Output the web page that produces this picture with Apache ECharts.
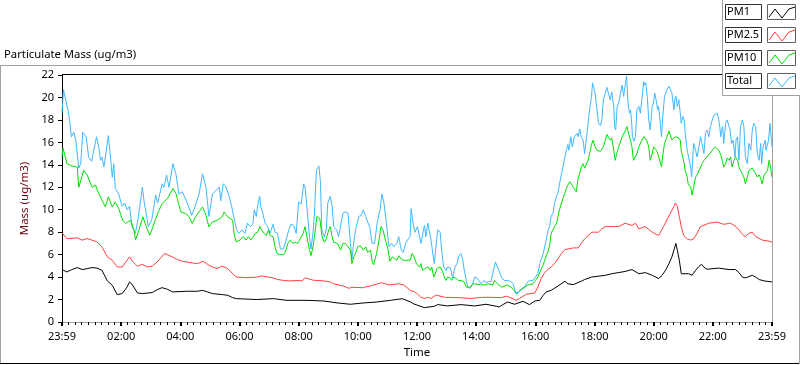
<!DOCTYPE html>
<html>
<head>
<meta charset="utf-8">
<script src="https://cdn.jsdelivr.net/npm/echarts@6/dist/echarts.min.js"></script>
<style>
  html, body { margin: 0; padding: 0; background: #ffffff; }
  #chart { width: 800px; height: 365px; }
</style>
</head>
<body>
<div id="chart"></div>
<script>
// ---- data (time in minutes from the first 23:59 sample) ----
const seriesNames = ['PM1', 'PM2.5', 'PM10', 'Total'];
const seriesColors = ['#000000', '#ff4040', '#00e000', '#40b8ff'];
const tickLabels = ['23:59','02:00','04:00','06:00','08:00','10:00','12:00','14:00','16:00','18:00','20:00','22:00','23:59'];

const pm1Times = [0,10,20,31,41,51,61,71,81,92,102,112,122,132,137,142,153,163,183,193,203,214,224,254,275,285,295,305,325,336,346,354,395,429,456,497,531,558,585,612,639,666,690,707,714,735,755,762,782,809,837,860,881,887,894,904,918,935,948,959,969,976,982,992,1006,1020,1026,1037,1053,1060,1074,1102,1115,1142,1156,1170,1183,1197,1210,1217,1224,1231,1237,1243,1245,1248,1252,1256,1271,1278,1285,1292,1297,1302,1308,1332,1353,1366,1373,1380,1386,1400,1407,1414,1424,1440];
const pm1Values = [4.67,4.46,4.67,4.85,4.67,4.75,4.85,4.8,4.6,3.66,3.27,2.44,2.53,3.12,3.57,3.36,2.59,2.53,2.62,2.88,3.06,2.91,2.68,2.74,2.74,2.82,2.68,2.53,2.44,2.38,2.17,2.08,2.0,2.08,1.93,1.93,1.87,1.7,1.58,1.7,1.78,1.93,2.08,1.78,1.6,1.28,1.4,1.55,1.43,1.55,1.43,1.58,1.4,1.34,1.55,1.78,1.58,1.84,1.55,1.87,1.93,2.38,2.68,2.82,3.2,3.63,3.4,3.33,3.63,3.78,4.0,4.16,4.3,4.5,4.67,4.3,4.4,4.16,3.87,4.16,4.6,5.2,5.8,6.7,7.0,6.4,5.5,4.3,4.3,4.16,4.6,4.96,5.14,4.87,4.7,4.8,4.67,4.67,4.4,4.0,3.93,4.16,4.0,3.78,3.66,3.57];

const pm25Times = [0,10,31,41,51,61,71,81,92,102,112,122,137,142,153,163,173,183,193,208,224,234,244,264,275,286,295,305,315,324,336,346,354,375,395,405,426,436,449,463,477,487,493,500,510,531,544,551,571,582,588,609,629,648,663,683,693,707,714,721,728,735,742,748,759,776,803,830,853,870,891,901,914,921,928,942,959,965,972,979,986,992,999,1006,1013,1020,1026,1037,1047,1053,1060,1067,1075,1088,1095,1102,1115,1129,1142,1156,1163,1170,1183,1197,1210,1220,1227,1234,1241,1244,1248,1252,1256,1261,1268,1275,1281,1288,1295,1312,1329,1342,1356,1367,1373,1380,1386,1393,1400,1407,1420,1434,1440];
const pm25Values = [7.94,7.43,7.49,7.29,7.43,7.29,7.14,6.69,5.8,5.5,4.9,4.9,5.8,5.45,4.97,5.14,4.9,4.97,5.35,6.1,5.8,5.56,5.41,5.26,5.2,5.41,5.14,4.9,4.76,4.97,4.76,4.31,4.0,3.95,4.0,4.1,3.95,3.8,3.7,3.66,3.7,3.66,3.95,3.84,3.72,3.66,3.57,3.4,3.2,3.0,3.1,3.05,3.25,3.5,3.3,3.4,3.3,2.8,2.7,2.5,2.2,2.1,2.2,2.1,2.4,2.2,2.17,2.1,2.2,2.2,2.17,2.3,2.1,1.93,2.1,2.47,2.59,3.1,3.9,4.4,4.7,4.9,5.2,5.65,6.1,6.45,6.5,6.6,6.6,7.0,7.4,7.7,8.0,8.0,8.3,8.5,8.5,8.5,8.8,8.6,8.8,8.3,8.5,8.0,7.7,8.5,9.1,9.7,10.3,10.6,10.3,9.4,8.5,7.7,7.4,7.3,7.4,7.9,8.5,8.8,8.9,8.7,8.8,8.5,8.2,7.8,7.6,7.9,8.0,7.6,7.3,7.2,7.1];

const pm10Times = [0,2,10,20,31,34,44,51,61,68,73,81,88,94,102,108,115,123,129,139,146,149,156,164,170,178,183,190,197,203,214,225,231,241,251,258,264,271,278,285,292,298,305,315,325,329,336,346,349,353,361,368,373,378,383,388,392,397,401,405,410,414,419,422,428,432,436,441,449,453,458,463,468,473,478,483,489,493,498,502,505,509,512,517,523,527,532,536,541,544,548,551,554,559,565,570,575,580,585,588,592,595,600,605,611,616,620,626,629,632,638,643,647,651,656,661,665,670,673,679,683,688,693,700,706,710,714,719,725,728,731,738,743,747,750,754,757,761,763,767,772,776,779,782,788,790,794,799,804,809,815,820,823,828,833,838,849,853,858,864,874,877,883,892,903,911,917,921,926,935,945,955,960,965,971,976,979,982,986,989,992,996,999,1003,1006,1009,1013,1016,1020,1023,1026,1030,1033,1037,1040,1043,1047,1050,1053,1057,1060,1064,1067,1070,1074,1077,1081,1085,1092,1098,1105,1112,1115,1119,1122,1125,1129,1136,1142,1146,1149,1153,1156,1159,1163,1166,1170,1176,1180,1186,1190,1193,1197,1200,1207,1210,1214,1216,1218,1222,1227,1231,1237,1244,1251,1254,1256,1259,1262,1264,1268,1270,1273,1275,1278,1281,1285,1288,1292,1295,1298,1302,1305,1308,1312,1319,1325,1329,1332,1336,1339,1342,1346,1349,1353,1356,1359,1363,1366,1370,1373,1376,1380,1383,1386,1390,1393,1400,1403,1407,1410,1414,1417,1420,1424,1427,1431,1434,1437,1440];
const pm10Values = [14.7,15.5,14.1,13.9,13.8,12.0,13.5,13.1,12.0,12.2,11.6,10.85,10.25,11.15,10.25,10.7,10.1,9.07,8.77,9.07,8.18,7.3,8.18,9.37,8.6,7.73,8.3,9.2,9.96,10.55,11.0,11.9,11.45,9.8,9.66,9.37,8.77,9.37,9.8,10.25,9.5,8.47,8.9,9.07,9.37,9.8,9.37,9.07,7.88,7.14,7.3,7.6,7.3,7.6,7.3,7.6,7.9,8.0,8.5,8.2,7.9,7.7,8.2,7.7,7.6,6.7,6.1,6.0,6.0,6.2,7.0,7.3,7.0,7.1,7.0,7.4,7.9,8.5,7.3,6.4,5.9,6.7,7.6,9.4,9.2,7.7,7.1,7.4,8.2,8.5,7.6,7.1,7.0,7.0,6.4,7.0,7.0,6.7,6.4,5.2,5.8,6.1,6.7,6.8,6.4,6.7,6.2,6.4,5.4,5.1,6.1,7.3,8.5,8.2,7.3,6.5,5.4,5.8,5.8,5.5,5.9,5.6,5.5,5.5,5.5,6.1,5.8,5.2,4.9,5.2,4.6,4.8,4.9,4.6,4.9,4.0,3.9,4.8,4.9,4.9,4.5,3.9,3.7,4.0,3.9,3.7,4.0,3.9,3.7,3.7,3.6,3.1,3.0,3.1,3.4,3.4,3.3,3.4,3.3,3.4,3.3,3.7,3.4,3.1,3.3,3.1,2.8,2.5,2.7,3.0,3.3,3.4,3.7,4.0,4.6,5.1,5.5,5.9,6.3,6.8,7.9,8.0,8.5,8.8,9.4,10.0,10.6,11.0,11.5,11.9,12.2,12.5,12.6,12.0,11.9,11.6,12.9,13.2,13.8,14.1,13.7,13.7,14.4,15.0,15.8,16.2,15.6,15.3,15.2,15.6,16.7,16.2,16.4,15.3,14.4,15.0,15.6,16.5,17.0,17.4,16.8,16.2,15.6,14.4,14.3,15.0,15.6,16.2,16.5,16.2,15.6,14.4,15.0,15.6,15.2,15.3,14.1,13.8,14.7,15.9,16.5,17.0,16.2,16.5,16.4,16.2,15.2,14.7,14.1,13.5,12.9,12.3,12.3,12.0,11.3,12.0,12.9,13.1,13.5,13.8,14.1,14.4,14.3,14.7,14.9,15.3,15.6,15.5,15.3,14.9,14.4,13.8,14.1,14.6,14.4,14.7,13.8,14.4,14.7,14.4,13.8,13.5,13.2,12.9,12.3,12.9,13.5,13.7,13.7,13.2,12.9,13.1,12.8,12.3,13.1,13.2,13.5,14.4,13.8,12.9];

const totalTimes = [0,3,12,15,19,24,28,34,38,42,49,54,60,70,75,78,81,85,94,97,102,105,108,115,122,127,132,137,142,149,155,163,167,175,182,190,194,203,207,212,217,225,231,237,244,254,263,270,278,285,292,298,305,312,319,322,327,332,339,344,354,359,365,371,376,382,387,390,394,397,401,403,407,412,417,422,428,432,437,443,449,455,460,464,470,475,480,485,490,493,497,502,505,509,512,516,521,524,527,532,536,539,544,548,551,557,561,566,570,575,580,585,588,593,597,602,607,611,616,620,624,629,634,639,645,649,653,658,663,668,673,679,683,688,692,697,702,706,708,712,716,721,728,735,738,742,748,755,762,767,770,774,779,782,788,792,797,801,805,809,813,816,820,823,828,833,837,842,847,850,856,860,865,870,874,879,883,887,892,898,904,910,915,919,923,928,933,938,945,950,955,960,965,969,972,976,979,982,986,989,992,996,999,1003,1006,1009,1013,1016,1020,1023,1026,1028,1032,1035,1039,1041,1045,1047,1050,1053,1057,1060,1064,1067,1070,1074,1076,1079,1081,1085,1088,1092,1095,1098,1102,1105,1108,1112,1115,1119,1121,1123,1126,1129,1132,1136,1139,1142,1145,1148,1151,1153,1155,1157,1160,1163,1166,1170,1173,1176,1180,1182,1184,1187,1190,1193,1197,1200,1202,1205,1208,1210,1214,1216,1218,1222,1227,1231,1234,1237,1241,1243,1245,1248,1251,1254,1256,1259,1262,1264,1268,1271,1275,1277,1279,1281,1285,1288,1292,1295,1298,1302,1305,1308,1312,1315,1319,1322,1325,1329,1332,1334,1336,1338,1340,1342,1346,1349,1353,1355,1358,1361,1365,1367,1370,1373,1376,1380,1383,1386,1390,1393,1397,1400,1403,1407,1410,1414,1417,1419,1422,1426,1428,1433,1436,1439,1440];
const totalValues = [18.6,20.7,18.9,18.1,16.5,16.9,16.2,13.7,14.1,16.9,16.5,14.7,14.3,16.5,15.5,14.4,14.7,13.8,16.6,15.3,12.9,14.1,11.9,11.4,10.3,10.6,10.0,10.3,8.5,7.9,9.4,12.0,10.6,8.5,9.1,11.3,10.6,12.3,12.0,13.1,12.0,14.1,13.2,11.4,11.6,10.6,9.5,10.3,11.4,13.2,12.0,9.4,11.4,11.7,12.0,10.8,12.3,12.1,11.2,10.3,8.2,7.9,8.2,7.9,8.8,8.5,8.7,10.0,9.4,10.4,11.2,10.3,9.7,8.8,8.5,7.9,8.7,8.0,7.9,6.5,6.5,7.4,8.2,8.7,8.6,7.9,10.7,10.5,12.3,12.0,10.1,7.6,6.5,7.9,9.7,13.5,13.9,12.6,8.2,7.6,8.2,10.6,11.2,10.3,8.5,8.2,7.6,8.8,9.7,9.8,9.7,7.0,5.6,7.6,8.5,9.4,9.5,10.0,9.4,8.9,8.5,7.0,7.0,8.8,10.0,11.4,10.6,8.8,6.7,7.0,6.7,7.0,7.6,6.4,6.2,7.0,7.4,7.6,10.1,8.8,8.0,8.5,7.0,8.6,7.6,8.8,7.4,5.2,8.2,8.0,6.4,4.9,4.6,4.9,4.8,3.9,4.9,5.2,5.9,6.1,5.5,4.6,3.7,3.1,3.0,3.4,4.0,3.9,3.6,3.4,3.7,3.5,3.6,3.6,3.7,5.35,5.2,4.5,3.9,3.7,3.7,3.6,3.4,2.8,2.5,2.8,3.0,3.1,3.6,3.7,3.7,4.0,4.3,5.2,5.2,6.1,6.7,7.3,8.2,8.5,9.4,9.7,10.6,11.2,11.5,12.3,13.2,13.8,14.7,15.3,15.8,15.3,16.5,15.6,16.5,16.5,16.8,16.5,17.2,16.5,16.2,15.0,16.5,17.7,18.9,20.1,21.3,20.8,20.4,18.9,17.7,17.5,18.0,19.8,20.4,20.9,20.4,19.8,20.5,19.2,17.4,17.1,19.2,19.5,19.5,21.1,20.1,21.0,21.9,19.5,18.6,18.9,18.0,16.5,16.1,16.5,18.9,19.2,18.6,19.8,21.4,21.1,21.3,20.1,18.0,17.1,19.2,19.5,20.4,19.8,18.9,19.2,17.4,16.5,18.0,20.1,20.7,21.0,21.1,20.4,18.9,19.8,20.1,19.2,19.8,19.8,17.7,18.3,18.0,16.8,15.3,15.3,13.8,12.9,14.4,15.9,15.3,14.7,15.6,16.5,15.9,15.0,16.8,17.1,16.5,17.4,18.0,18.4,18.4,18.6,18.0,17.4,16.5,17.1,17.4,15.9,17.7,18.0,17.4,17.1,15.9,16.2,14.7,16.2,16.5,14.4,17.4,18.0,17.4,14.7,14.1,15.9,15.3,17.1,17.7,17.4,15.0,14.4,15.9,14.1,15.6,16.2,15.3,16.2,17.7,16.0,15.6];

// ---- chart ----
const FONT = '"Noto Sans", "Open Sans", sans-serif';
const pairs = (ts, vs) => ts.map((t, i) => [t, vs[i]]);
const seriesData = [
  pairs(pm1Times, pm1Values),
  pairs(pm25Times, pm25Values),
  pairs(pm10Times, pm10Values),
  pairs(totalTimes, totalValues)
];
const drawOrder = [3, 2, 1, 0];

const GRAY = '#a0a0a0';
const graphics = [];
function hline(x1, x2, y, color) {
  graphics.push({ type: 'line', silent: true, z: 50, shape: { x1: x1, y1: y, x2: x2, y2: y }, style: { stroke: color, lineWidth: 1 } });
}
function vline(x, y1, y2, color) {
  graphics.push({ type: 'line', silent: true, z: 50, shape: { x1: x, y1: y1, x2: x, y2: y2 }, style: { stroke: color, lineWidth: 1 } });
}
// outer frame
hline(0, 722, 65.5, GRAY);
vline(0.5, 65, 364, GRAY);
hline(0, 800, 363.5, '#000');
vline(799.5, 0, 364, GRAY);
// plot frame top / right
hline(62, 722, 74.5, '#000');
vline(772.5, 95, 322, GRAY);
// legend panel
graphics.push({ type: 'rect', silent: true, z: 60, shape: { x: 722.5, y: -1, width: 78, height: 96.5 }, style: { fill: '#fff', stroke: GRAY, lineWidth: 1 } });
const legendTops = [4, 27, 50, 73];
seriesNames.forEach((name, i) => {
  const y = legendTops[i];
  graphics.push({ type: 'rect', silent: true, z: 61, shape: { x: 725.5, y: y + 0.5, width: 36, height: 15 }, style: { fill: '#fff', stroke: '#303030', lineWidth: 1 } });
  graphics.push({ type: 'text', silent: true, z: 62, x: 727, y: y + 8, style: { text: name, fill: '#000', font: '11px ' + FONT, verticalAlign: 'middle' } });
  graphics.push({ type: 'rect', silent: true, z: 61, shape: { x: 767.5, y: y + 0.5, width: 28, height: 15 }, style: { fill: '#fff', stroke: '#606060', lineWidth: 1 } });
  graphics.push({ type: 'polyline', silent: true, z: 62, shape: { points: [[769, y + 13], [775, y + 5], [782, y + 14], [789, y + 5], [795, y + 3]] }, style: { stroke: seriesColors[i], lineWidth: 1, fill: null } });
});
// title
graphics.push({ type: 'text', silent: true, z: 62, x: 4, y: 55, style: { text: 'Particulate Mass (ug/m3)', fill: '#000', font: '11.3px ' + FONT, verticalAlign: 'middle' } });

const chart = echarts.init(document.getElementById('chart'), null, { renderer: 'canvas' });
chart.setOption({
  animation: false,
  backgroundColor: '#ffffff',
  textStyle: { fontFamily: FONT },
  grid: { left: 62, right: 28, top: 75, bottom: 43, containLabel: false },
  xAxis: {
    type: 'value', min: 0, max: 1440, interval: 120,
    name: 'Time', nameLocation: 'middle', nameGap: 24,
    nameTextStyle: { color: '#000', fontSize: 11.5, fontFamily: FONT },
    axisLine: { show: true, lineStyle: { color: GRAY, width: 1 } },
    axisTick: { show: true, length: 4, lineStyle: { color: '#000', width: 2 } },
    minorTick: { show: true, splitNumber: 9, length: 3, lineStyle: { color: '#000', width: 1 } },
    axisLabel: { color: '#000', fontSize: 11, margin: 9, fontFamily: FONT, formatter: v => tickLabels[Math.round(v / 120)] },
    splitLine: { show: false }, minorSplitLine: { show: false }
  },
  yAxis: {
    type: 'value', min: 0, max: 22, interval: 2,
    name: 'Mass (ug/m3)', nameLocation: 'middle', nameGap: 30, nameRotate: 90,
    nameTextStyle: { color: '#700010', fontSize: 11.5, fontFamily: FONT },
    axisLine: { show: true, lineStyle: { color: '#000', width: 1 } },
    axisTick: { show: true, length: 4, lineStyle: { color: '#000', width: 1 } },
    axisLabel: { color: '#000', fontSize: 11, margin: 8, fontFamily: FONT },
    splitLine: { show: false }
  },
  series: drawOrder.map(i => ({
    name: seriesNames[i], type: 'line', data: seriesData[i],
    showSymbol: false, symbol: 'none',
    lineStyle: { color: seriesColors[i], width: 1 },
    itemStyle: { color: seriesColors[i] },
    z: 2
  })),
  graphic: { elements: graphics }
});
</script>
</body>
</html>
